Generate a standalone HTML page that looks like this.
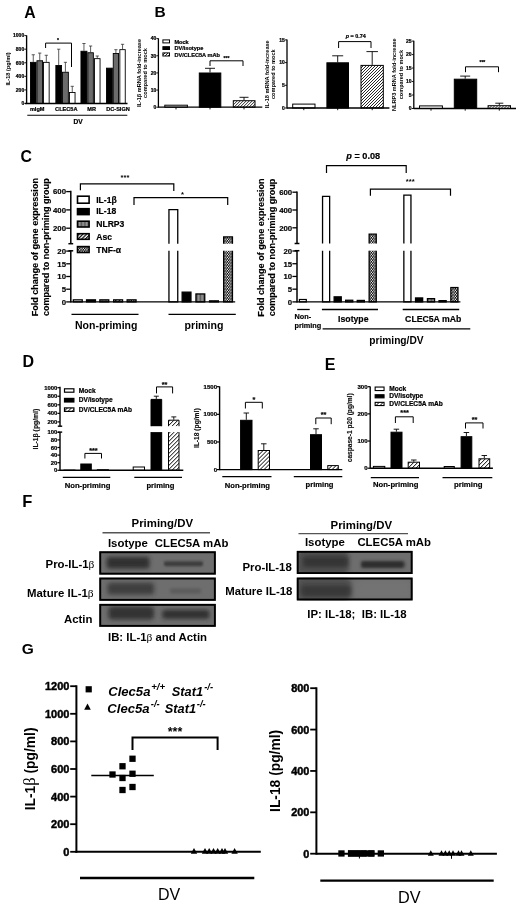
<!DOCTYPE html>
<html><head><meta charset="utf-8"><title>Figure</title>
<style>
html,body{margin:0;padding:0;background:#fff;width:520px;height:905px;overflow:hidden}
svg{display:block;font-family:"Liberation Sans",sans-serif;filter:grayscale(1)}
</style></head><body>
<svg width="520" height="905" viewBox="0 0 520 905"><defs>
<pattern id="hatch" patternUnits="userSpaceOnUse" width="1.9" height="1.9" patternTransform="rotate(45)"><rect width="1.9" height="1.9" fill="#fff"/><rect width="0.7" height="1.9" fill="#000"/></pattern>
<pattern id="hatch2" patternUnits="userSpaceOnUse" width="2.9" height="2.9" patternTransform="rotate(45)"><rect width="2.9" height="2.9" fill="#fff"/><rect width="0.95" height="2.9" fill="#000"/></pattern>
<pattern id="asc" patternUnits="userSpaceOnUse" width="2.6" height="2.6" patternTransform="rotate(45)"><rect width="2.6" height="2.6" fill="#fff"/><rect width="1.2" height="2.6" fill="#000"/></pattern>
<pattern id="check" patternUnits="userSpaceOnUse" width="2.4" height="3.0"><rect width="2.4" height="3.0" fill="#000"/><circle cx="0.6" cy="0.75" r="0.72" fill="#fff"/><circle cx="1.8" cy="2.25" r="0.72" fill="#fff"/></pattern>
<pattern id="dots" patternUnits="userSpaceOnUse" width="1.4" height="1.4"><rect width="1.4" height="1.4" fill="#9a9a9a"/><rect width="0.7" height="1.4" fill="#5a5a5a"/></pattern>
<filter id="bl1_5" x="-50%" y="-50%" width="200%" height="200%"><feGaussianBlur stdDeviation="1.5"/></filter>
<filter id="bl1" x="-50%" y="-50%" width="200%" height="200%"><feGaussianBlur stdDeviation="1"/></filter>
<filter id="bl2" x="-50%" y="-50%" width="200%" height="200%"><feGaussianBlur stdDeviation="2"/></filter>
<filter id="bl3" x="-50%" y="-50%" width="200%" height="200%"><feGaussianBlur stdDeviation="3"/></filter>
<clipPath id="c0"><rect x="99.3" y="551.3" width="116.5" height="23.3"/></clipPath><clipPath id="c1"><rect x="99.3" y="577.6" width="116.5" height="23.2"/></clipPath><clipPath id="c2"><rect x="99.3" y="603.9" width="116.5" height="22.9"/></clipPath><clipPath id="c3"><rect x="296.8" y="550.9" width="115.8" height="23.1"/></clipPath><clipPath id="c4"><rect x="296.8" y="577.6" width="115.8" height="22.8"/></clipPath><clipPath id="h0"><rect x="162.9" y="52.9" width="6.6" height="3.1"/></clipPath><clipPath id="h1"><rect x="233.3" y="100.7" width="21.7" height="6.5"/></clipPath><clipPath id="h2"><rect x="361" y="65.4" width="22.3" height="42.6"/></clipPath><clipPath id="h3"><rect x="488.1" y="105.7" width="22.4" height="2.8"/></clipPath><clipPath id="h4"><rect x="64.5" y="407.9" width="9.4" height="3.5"/></clipPath><clipPath id="h5"><rect x="97.35" y="469.65" width="11.1" height="0.65"/></clipPath><clipPath id="h6"><rect x="168.5" y="420.2" width="10.5" height="6"/></clipPath><clipPath id="h7"><rect x="168.5" y="432.1" width="10.5" height="38.2"/></clipPath><clipPath id="h8"><rect x="258.2" y="450.5" width="11.3" height="19.1"/></clipPath><clipPath id="h9"><rect x="327.8" y="465.6" width="10.5" height="4"/></clipPath><clipPath id="h10"><rect x="375.15" y="402.35" width="8.9" height="3.2"/></clipPath><clipPath id="h11"><rect x="408.2" y="462.2" width="11.3" height="6"/></clipPath><clipPath id="h12"><rect x="479" y="458.8" width="10.7" height="9.4"/></clipPath></defs><rect width="520" height="905" fill="#fff"/><text x="24.2" y="17.9" font-size="15.8" text-anchor="start" font-weight="bold" font-style="normal" fill="#000" >A</text>
<line x1="26.6" y1="35.3" x2="26.6" y2="104.1" stroke="#000" stroke-width="1.35" />
<line x1="24.4" y1="103.5" x2="26.6" y2="103.5" stroke="#000" stroke-width="0.9" />
<text x="24.2" y="105.3" font-size="5" text-anchor="end" font-weight="bold" font-style="normal" fill="#000"  stroke="#000" stroke-width="0.22">0</text>
<line x1="24.4" y1="89.92" x2="26.6" y2="89.92" stroke="#000" stroke-width="0.9" />
<text x="24.2" y="91.72" font-size="5" text-anchor="end" font-weight="bold" font-style="normal" fill="#000"  stroke="#000" stroke-width="0.22">200</text>
<line x1="24.4" y1="76.34" x2="26.6" y2="76.34" stroke="#000" stroke-width="0.9" />
<text x="24.2" y="78.14" font-size="5" text-anchor="end" font-weight="bold" font-style="normal" fill="#000"  stroke="#000" stroke-width="0.22">400</text>
<line x1="24.4" y1="62.76" x2="26.6" y2="62.76" stroke="#000" stroke-width="0.9" />
<text x="24.2" y="64.56" font-size="5" text-anchor="end" font-weight="bold" font-style="normal" fill="#000"  stroke="#000" stroke-width="0.22">600</text>
<line x1="24.4" y1="49.18" x2="26.6" y2="49.18" stroke="#000" stroke-width="0.9" />
<text x="24.2" y="50.98" font-size="5" text-anchor="end" font-weight="bold" font-style="normal" fill="#000"  stroke="#000" stroke-width="0.22">800</text>
<line x1="24.4" y1="35.6" x2="26.6" y2="35.6" stroke="#000" stroke-width="0.9" />
<text x="24.2" y="37.4" font-size="5" text-anchor="end" font-weight="bold" font-style="normal" fill="#000"  stroke="#000" stroke-width="0.22">1000</text>
<text x="10.2" y="69" font-size="5.6" text-anchor="middle" font-weight="bold" font-style="normal" fill="#000" transform="rotate(-90 10.2 69)" >IL-18 (pg/ml)</text>
<line x1="33.25" y1="61.9" x2="33.25" y2="54.75" stroke="#333" stroke-width="0.8" />
<line x1="31.65" y1="54.75" x2="34.85" y2="54.75" stroke="#333" stroke-width="0.8" />
<rect x="30.45" y="62.35" width="5.6" height="41.15" fill="#000" stroke="none" stroke-width="0" />
<rect x="30.45" y="62.35" width="5.6" height="41.15" fill="none" stroke="#000" stroke-width="0.9" />
<line x1="39.75" y1="60.3" x2="39.75" y2="53.1" stroke="#333" stroke-width="0.8" />
<line x1="38.15" y1="53.1" x2="41.35" y2="53.1" stroke="#333" stroke-width="0.8" />
<rect x="36.95" y="60.75" width="5.6" height="42.75" fill="#6b6b6b" stroke="none" stroke-width="0" />
<rect x="36.95" y="60.75" width="5.6" height="42.75" fill="none" stroke="#000" stroke-width="0.9" />
<line x1="46.3" y1="61.9" x2="46.3" y2="55.25" stroke="#333" stroke-width="0.8" />
<line x1="44.7" y1="55.25" x2="47.9" y2="55.25" stroke="#333" stroke-width="0.8" />
<rect x="43.45" y="62.35" width="5.7" height="41.15" fill="#fff" stroke="none" stroke-width="0" />
<rect x="43.45" y="62.35" width="5.7" height="41.15" fill="none" stroke="#000" stroke-width="0.9" />
<line x1="58.7" y1="65" x2="58.7" y2="49.2" stroke="#333" stroke-width="0.8" />
<line x1="57.1" y1="49.2" x2="60.3" y2="49.2" stroke="#333" stroke-width="0.8" />
<rect x="55.85" y="65.45" width="5.7" height="38.05" fill="#000" stroke="none" stroke-width="0" />
<rect x="55.85" y="65.45" width="5.7" height="38.05" fill="none" stroke="#000" stroke-width="0.9" />
<line x1="65.4" y1="71.8" x2="65.4" y2="62.3" stroke="#333" stroke-width="0.8" />
<line x1="63.8" y1="62.3" x2="67" y2="62.3" stroke="#333" stroke-width="0.8" />
<rect x="62.45" y="72.25" width="5.9" height="31.25" fill="#6b6b6b" stroke="none" stroke-width="0" />
<rect x="62.45" y="72.25" width="5.9" height="31.25" fill="none" stroke="#000" stroke-width="0.9" />
<line x1="72.25" y1="92" x2="72.25" y2="86.3" stroke="#333" stroke-width="0.8" />
<line x1="70.65" y1="86.3" x2="73.85" y2="86.3" stroke="#333" stroke-width="0.8" />
<rect x="69.45" y="92.45" width="5.6" height="11.05" fill="#fff" stroke="none" stroke-width="0" />
<rect x="69.45" y="92.45" width="5.6" height="11.05" fill="none" stroke="#000" stroke-width="0.9" />
<line x1="83.95" y1="50.8" x2="83.95" y2="43.5" stroke="#333" stroke-width="0.8" />
<line x1="82.35" y1="43.5" x2="85.55" y2="43.5" stroke="#333" stroke-width="0.8" />
<rect x="80.95" y="51.25" width="6" height="52.25" fill="#000" stroke="none" stroke-width="0" />
<rect x="80.95" y="51.25" width="6" height="52.25" fill="none" stroke="#000" stroke-width="0.9" />
<line x1="90.6" y1="52.3" x2="90.6" y2="46" stroke="#333" stroke-width="0.8" />
<line x1="89" y1="46" x2="92.2" y2="46" stroke="#333" stroke-width="0.8" />
<rect x="87.85" y="52.75" width="5.5" height="50.75" fill="#6b6b6b" stroke="none" stroke-width="0" />
<rect x="87.85" y="52.75" width="5.5" height="50.75" fill="none" stroke="#000" stroke-width="0.9" />
<line x1="97.25" y1="58.2" x2="97.25" y2="56" stroke="#333" stroke-width="0.8" />
<line x1="95.65" y1="56" x2="98.85" y2="56" stroke="#333" stroke-width="0.8" />
<rect x="94.45" y="58.65" width="5.6" height="44.85" fill="#fff" stroke="none" stroke-width="0" />
<rect x="94.45" y="58.65" width="5.6" height="44.85" fill="none" stroke="#000" stroke-width="0.9" />
<rect x="106.45" y="68.15" width="5.9" height="35.35" fill="#000" stroke="none" stroke-width="0" />
<rect x="106.45" y="68.15" width="5.9" height="35.35" fill="none" stroke="#000" stroke-width="0.9" />
<line x1="115.9" y1="53" x2="115.9" y2="49.7" stroke="#333" stroke-width="0.8" />
<line x1="114.3" y1="49.7" x2="117.5" y2="49.7" stroke="#333" stroke-width="0.8" />
<rect x="113.25" y="53.45" width="5.3" height="50.05" fill="#6b6b6b" stroke="none" stroke-width="0" />
<rect x="113.25" y="53.45" width="5.3" height="50.05" fill="none" stroke="#000" stroke-width="0.9" />
<line x1="122.55" y1="49.2" x2="122.55" y2="44.3" stroke="#333" stroke-width="0.8" />
<line x1="120.95" y1="44.3" x2="124.15" y2="44.3" stroke="#333" stroke-width="0.8" />
<rect x="119.85" y="49.65" width="5.4" height="53.85" fill="#fff" stroke="none" stroke-width="0" />
<rect x="119.85" y="49.65" width="5.4" height="53.85" fill="none" stroke="#000" stroke-width="0.9" />
<line x1="25" y1="103.5" x2="127.5" y2="103.5" stroke="#000" stroke-width="1.3" />
<polyline points="45.6,48 45.6,43.1 71.5,43.1 71.5,67" fill="none" stroke="#000" stroke-width="1" stroke-linejoin="miter"/>
<text x="58" y="41.5" font-size="5" text-anchor="middle" font-weight="bold" font-style="normal" fill="#000"  stroke="#000" stroke-width="0.22">*</text>
<text x="37.2" y="110.8" font-size="5.6" text-anchor="middle" font-weight="bold" font-style="normal" fill="#000"  stroke="#000" stroke-width="0.22">mIgM</text>
<text x="66.3" y="110.8" font-size="5.6" text-anchor="middle" font-weight="bold" font-style="normal" fill="#000"  stroke="#000" stroke-width="0.22">CLEC5A</text>
<text x="91.7" y="110.8" font-size="5.6" text-anchor="middle" font-weight="bold" font-style="normal" fill="#000"  stroke="#000" stroke-width="0.22">MR</text>
<text x="118" y="110.8" font-size="5.6" text-anchor="middle" font-weight="bold" font-style="normal" fill="#000"  stroke="#000" stroke-width="0.22">DC-SIGN</text>
<line x1="27.3" y1="115.3" x2="127.3" y2="115.3" stroke="#000" stroke-width="1.1" />
<text x="78" y="123.8" font-size="6.6" text-anchor="middle" font-weight="bold" font-style="normal" fill="#000"  stroke="#000" stroke-width="0.22">DV</text>
<text x="154.6" y="17.2" font-size="15.5" text-anchor="start" font-weight="bold" font-style="normal" fill="#000" >B</text>
<line x1="158.4" y1="38.3" x2="158.4" y2="107.7" stroke="#000" stroke-width="1.3" />
<line x1="156.4" y1="107.2" x2="158.4" y2="107.2" stroke="#000" stroke-width="0.9" />
<text x="156.2" y="109" font-size="5" text-anchor="end" font-weight="bold" font-style="normal" fill="#000"  stroke="#000" stroke-width="0.22">0</text>
<line x1="156.4" y1="90.05" x2="158.4" y2="90.05" stroke="#000" stroke-width="0.9" />
<text x="156.2" y="91.85" font-size="5" text-anchor="end" font-weight="bold" font-style="normal" fill="#000"  stroke="#000" stroke-width="0.22">10</text>
<line x1="156.4" y1="72.9" x2="158.4" y2="72.9" stroke="#000" stroke-width="0.9" />
<text x="156.2" y="74.7" font-size="5" text-anchor="end" font-weight="bold" font-style="normal" fill="#000"  stroke="#000" stroke-width="0.22">20</text>
<line x1="156.4" y1="55.75" x2="158.4" y2="55.75" stroke="#000" stroke-width="0.9" />
<text x="156.2" y="57.55" font-size="5" text-anchor="end" font-weight="bold" font-style="normal" fill="#000"  stroke="#000" stroke-width="0.22">30</text>
<line x1="156.4" y1="38.6" x2="158.4" y2="38.6" stroke="#000" stroke-width="0.9" />
<text x="156.2" y="40.4" font-size="5" text-anchor="end" font-weight="bold" font-style="normal" fill="#000"  stroke="#000" stroke-width="0.22">40</text>
<text x="140.8" y="73" font-size="5.6" text-anchor="middle" font-weight="bold" font-style="normal" fill="#000" transform="rotate(-90 140.8 73)" >IL-1β mRNA fold-increase</text>
<text x="147.2" y="73" font-size="5.6" text-anchor="middle" font-weight="bold" font-style="normal" fill="#000" transform="rotate(-90 147.2 73)" >compared to mock</text>
<rect x="162.9" y="39.9" width="6.6" height="3" fill="#fff" stroke="none" stroke-width="0" />
<rect x="162.9" y="39.9" width="6.6" height="3" fill="none" stroke="#000" stroke-width="1" />
<text x="174.4" y="43.6" font-size="5.6" text-anchor="start" font-weight="bold" font-style="normal" fill="#000"  stroke="#000" stroke-width="0.22">Mock</text>
<rect x="162.9" y="46.7" width="6.6" height="2.8" fill="#000" stroke="none" stroke-width="0" />
<rect x="162.9" y="46.7" width="6.6" height="2.8" fill="none" stroke="#000" stroke-width="1" />
<text x="174.4" y="50.1" font-size="5.6" text-anchor="start" font-weight="bold" font-style="normal" fill="#000"  stroke="#000" stroke-width="0.22">DV/isotype</text>
<rect x="162.9" y="52.9" width="6.6" height="3.1" fill="#fff"/>
<path d="M159 56L162.1 52.9M162 56L165.1 52.9M165 56L168.1 52.9M168 56L171.1 52.9M171 56L174.1 52.9" stroke="#000" stroke-width="0.85" clip-path="url(#h0)"/>
<rect x="162.9" y="52.9" width="6.6" height="3.1" fill="none" stroke="#000" stroke-width="1" />
<text x="174.4" y="56.6" font-size="5.6" text-anchor="start" font-weight="bold" font-style="normal" fill="#000"  stroke="#000" stroke-width="0.22">DV/CLEC5A mAb</text>
<rect x="164.8" y="105.2" width="22.6" height="2" fill="#fff" stroke="none" stroke-width="0" />
<rect x="164.8" y="105.2" width="22.6" height="2" fill="none" stroke="#000" stroke-width="1" />
<line x1="210" y1="72.5" x2="210" y2="68.3" stroke="#000" stroke-width="0.9" />
<line x1="205" y1="68.3" x2="215" y2="68.3" stroke="#000" stroke-width="0.9" />
<rect x="199.3" y="73" width="21.5" height="34.2" fill="#000" stroke="none" stroke-width="0" />
<rect x="199.3" y="73" width="21.5" height="34.2" fill="none" stroke="#000" stroke-width="1" />
<line x1="244" y1="100.2" x2="244" y2="97.3" stroke="#000" stroke-width="0.9" />
<line x1="239.5" y1="97.3" x2="248.5" y2="97.3" stroke="#000" stroke-width="0.9" />
<rect x="233.3" y="100.7" width="21.7" height="6.5" fill="#fff"/>
<path d="M225 107.2L231.5 100.7M228 107.2L234.5 100.7M231 107.2L237.5 100.7M234 107.2L240.5 100.7M237 107.2L243.5 100.7M240 107.2L246.5 100.7M243 107.2L249.5 100.7M246 107.2L252.5 100.7M249 107.2L255.5 100.7M252 107.2L258.5 100.7M255 107.2L261.5 100.7" stroke="#000" stroke-width="0.85" clip-path="url(#h1)"/>
<rect x="233.3" y="100.7" width="21.7" height="6.5" fill="none" stroke="#000" stroke-width="1" />
<line x1="158.4" y1="107.2" x2="262.3" y2="107.2" stroke="#000" stroke-width="1.3" />
<line x1="176" y1="107.2" x2="176" y2="109.4" stroke="#000" stroke-width="0.9" />
<line x1="210" y1="107.2" x2="210" y2="109.4" stroke="#000" stroke-width="0.9" />
<line x1="244" y1="107.2" x2="244" y2="109.4" stroke="#000" stroke-width="0.9" />
<polyline points="210,66 210,60.8 243,60.8 243,66" fill="none" stroke="#000" stroke-width="1" stroke-linejoin="miter"/>
<text x="226.5" y="59.5" font-size="5" text-anchor="middle" font-weight="bold" font-style="normal" fill="#000"  stroke="#000" stroke-width="0.22">***</text>
<line x1="287" y1="39.6" x2="287" y2="108.5" stroke="#000" stroke-width="1.3" />
<line x1="285" y1="108" x2="287" y2="108" stroke="#000" stroke-width="0.9" />
<text x="284.8" y="109.8" font-size="5" text-anchor="end" font-weight="bold" font-style="normal" fill="#000"  stroke="#000" stroke-width="0.22">0</text>
<line x1="285" y1="85.3" x2="287" y2="85.3" stroke="#000" stroke-width="0.9" />
<text x="284.8" y="87.1" font-size="5" text-anchor="end" font-weight="bold" font-style="normal" fill="#000"  stroke="#000" stroke-width="0.22">5</text>
<line x1="285" y1="62.6" x2="287" y2="62.6" stroke="#000" stroke-width="0.9" />
<text x="284.8" y="64.4" font-size="5" text-anchor="end" font-weight="bold" font-style="normal" fill="#000"  stroke="#000" stroke-width="0.22">10</text>
<line x1="285" y1="39.9" x2="287" y2="39.9" stroke="#000" stroke-width="0.9" />
<text x="284.8" y="41.7" font-size="5" text-anchor="end" font-weight="bold" font-style="normal" fill="#000"  stroke="#000" stroke-width="0.22">15</text>
<text x="268.8" y="74.2" font-size="5.6" text-anchor="middle" font-weight="bold" font-style="normal" fill="#000" transform="rotate(-90 268.8 74.2)" >IL-18 mRNA fold-increase</text>
<text x="275.4" y="74.2" font-size="5.6" text-anchor="middle" font-weight="bold" font-style="normal" fill="#000" transform="rotate(-90 275.4 74.2)" >compared to mock</text>
<rect x="292.7" y="104.1" width="22.3" height="3.9" fill="#fff" stroke="none" stroke-width="0" />
<rect x="292.7" y="104.1" width="22.3" height="3.9" fill="none" stroke="#000" stroke-width="1" />
<line x1="337.7" y1="62.3" x2="337.7" y2="55.8" stroke="#000" stroke-width="0.9" />
<line x1="332.2" y1="55.8" x2="343.2" y2="55.8" stroke="#000" stroke-width="0.9" />
<rect x="326.9" y="62.8" width="21.6" height="45.2" fill="#000" stroke="none" stroke-width="0" />
<rect x="326.9" y="62.8" width="21.6" height="45.2" fill="none" stroke="#000" stroke-width="1" />
<line x1="372.2" y1="64.9" x2="372.2" y2="51.6" stroke="#000" stroke-width="0.9" />
<line x1="366.45" y1="51.6" x2="377.95" y2="51.6" stroke="#000" stroke-width="0.9" />
<rect x="361" y="65.4" width="22.3" height="42.6" fill="#fff"/>
<path d="M318 108L360.6 65.4M321 108L363.6 65.4M324 108L366.6 65.4M327 108L369.6 65.4M330 108L372.6 65.4M333 108L375.6 65.4M336 108L378.6 65.4M339 108L381.6 65.4M342 108L384.6 65.4M345 108L387.6 65.4M348 108L390.6 65.4M351 108L393.6 65.4M354 108L396.6 65.4M357 108L399.6 65.4M360 108L402.6 65.4M363 108L405.6 65.4M366 108L408.6 65.4M369 108L411.6 65.4M372 108L414.6 65.4M375 108L417.6 65.4M378 108L420.6 65.4M381 108L423.6 65.4M384 108L426.6 65.4" stroke="#000" stroke-width="0.85" clip-path="url(#h2)"/>
<rect x="361" y="65.4" width="22.3" height="42.6" fill="none" stroke="#000" stroke-width="1" />
<line x1="287" y1="108" x2="389.4" y2="108" stroke="#000" stroke-width="1.3" />
<line x1="303.8" y1="108" x2="303.8" y2="110.2" stroke="#000" stroke-width="0.9" />
<line x1="337.7" y1="108" x2="337.7" y2="110.2" stroke="#000" stroke-width="0.9" />
<line x1="372.2" y1="108" x2="372.2" y2="110.2" stroke="#000" stroke-width="0.9" />
<polyline points="338.6,48 338.6,41.6 371,41.6 371,48" fill="none" stroke="#000" stroke-width="1" stroke-linejoin="miter"/>
<text x="355.8" y="38.3" font-size="5.4" text-anchor="middle" font-weight="bold" font-style="normal" fill="#000"  stroke="#000" stroke-width="0.22"><tspan font-style="italic">p</tspan> = 0.74</text>
<line x1="413.8" y1="40.8" x2="413.8" y2="109" stroke="#000" stroke-width="1.3" />
<line x1="411.8" y1="108.5" x2="413.8" y2="108.5" stroke="#000" stroke-width="0.9" />
<text x="411.6" y="110.3" font-size="5" text-anchor="end" font-weight="bold" font-style="normal" fill="#000"  stroke="#000" stroke-width="0.22">0</text>
<line x1="411.8" y1="95.02" x2="413.8" y2="95.02" stroke="#000" stroke-width="0.9" />
<text x="411.6" y="96.82" font-size="5" text-anchor="end" font-weight="bold" font-style="normal" fill="#000"  stroke="#000" stroke-width="0.22">5</text>
<line x1="411.8" y1="81.54" x2="413.8" y2="81.54" stroke="#000" stroke-width="0.9" />
<text x="411.6" y="83.34" font-size="5" text-anchor="end" font-weight="bold" font-style="normal" fill="#000"  stroke="#000" stroke-width="0.22">10</text>
<line x1="411.8" y1="68.06" x2="413.8" y2="68.06" stroke="#000" stroke-width="0.9" />
<text x="411.6" y="69.86" font-size="5" text-anchor="end" font-weight="bold" font-style="normal" fill="#000"  stroke="#000" stroke-width="0.22">15</text>
<line x1="411.8" y1="54.58" x2="413.8" y2="54.58" stroke="#000" stroke-width="0.9" />
<text x="411.6" y="56.38" font-size="5" text-anchor="end" font-weight="bold" font-style="normal" fill="#000"  stroke="#000" stroke-width="0.22">20</text>
<line x1="411.8" y1="41.1" x2="413.8" y2="41.1" stroke="#000" stroke-width="0.9" />
<text x="411.6" y="42.9" font-size="5" text-anchor="end" font-weight="bold" font-style="normal" fill="#000"  stroke="#000" stroke-width="0.22">25</text>
<text x="396" y="74.6" font-size="5.55" text-anchor="middle" font-weight="bold" font-style="normal" fill="#000" transform="rotate(-90 396 74.6)" >NLRP3 mRNA fold-increase</text>
<text x="402.8" y="74.6" font-size="5.55" text-anchor="middle" font-weight="bold" font-style="normal" fill="#000" transform="rotate(-90 402.8 74.6)" >compared to mock</text>
<rect x="419.5" y="105.9" width="22.9" height="2.6" fill="#fff" stroke="none" stroke-width="0" />
<rect x="419.5" y="105.9" width="22.9" height="2.6" fill="none" stroke="#000" stroke-width="1" />
<line x1="465.2" y1="78.7" x2="465.2" y2="76.1" stroke="#000" stroke-width="0.9" />
<line x1="460.2" y1="76.1" x2="470.2" y2="76.1" stroke="#000" stroke-width="0.9" />
<rect x="454.3" y="79.2" width="22.4" height="29.3" fill="#000" stroke="none" stroke-width="0" />
<rect x="454.3" y="79.2" width="22.4" height="29.3" fill="none" stroke="#000" stroke-width="1" />
<line x1="499.3" y1="105.2" x2="499.3" y2="103.2" stroke="#000" stroke-width="0.9" />
<line x1="495.3" y1="103.2" x2="503.3" y2="103.2" stroke="#000" stroke-width="0.9" />
<rect x="488.1" y="105.7" width="22.4" height="2.8" fill="#fff"/>
<path d="M483 108.5L485.8 105.7M486 108.5L488.8 105.7M489 108.5L491.8 105.7M492 108.5L494.8 105.7M495 108.5L497.8 105.7M498 108.5L500.8 105.7M501 108.5L503.8 105.7M504 108.5L506.8 105.7M507 108.5L509.8 105.7M510 108.5L512.8 105.7M513 108.5L515.8 105.7" stroke="#000" stroke-width="0.85" clip-path="url(#h3)"/>
<rect x="488.1" y="105.7" width="22.4" height="2.8" fill="none" stroke="#000" stroke-width="1" />
<line x1="413.8" y1="108.5" x2="516" y2="108.5" stroke="#000" stroke-width="1.3" />
<line x1="431" y1="108.5" x2="431" y2="110.7" stroke="#000" stroke-width="0.9" />
<line x1="465.2" y1="108.5" x2="465.2" y2="110.7" stroke="#000" stroke-width="0.9" />
<line x1="499.3" y1="108.5" x2="499.3" y2="110.7" stroke="#000" stroke-width="0.9" />
<polyline points="465.5,72.2 465.5,66.8 498.5,66.8 498.5,72.2" fill="none" stroke="#000" stroke-width="1" stroke-linejoin="miter"/>
<text x="482.4" y="64.2" font-size="5" text-anchor="middle" font-weight="bold" font-style="normal" fill="#000"  stroke="#000" stroke-width="0.22">***</text>
<text x="20.6" y="161.6" font-size="15.8" text-anchor="start" font-weight="bold" font-style="normal" fill="#000" >C</text>
<line x1="70.8" y1="190.8" x2="70.8" y2="243.7" stroke="#000" stroke-width="1.5" />
<line x1="68.4" y1="243.7" x2="73.2" y2="243.7" stroke="#000" stroke-width="1.5" />
<line x1="70.8" y1="250.8" x2="70.8" y2="302.4" stroke="#000" stroke-width="1.5" />
<line x1="68.4" y1="250.8" x2="73.2" y2="250.8" stroke="#000" stroke-width="1.5" />
<line x1="66.2" y1="191.6" x2="70.8" y2="191.6" stroke="#000" stroke-width="1.3" />
<text x="66" y="194.4" font-size="7.8" text-anchor="end" font-weight="bold" font-style="normal" fill="#000"  stroke="#000" stroke-width="0.18">600</text>
<line x1="66.2" y1="209.9" x2="70.8" y2="209.9" stroke="#000" stroke-width="1.3" />
<text x="66" y="212.7" font-size="7.8" text-anchor="end" font-weight="bold" font-style="normal" fill="#000"  stroke="#000" stroke-width="0.18">400</text>
<line x1="66.2" y1="228.2" x2="70.8" y2="228.2" stroke="#000" stroke-width="1.3" />
<text x="66" y="231" font-size="7.8" text-anchor="end" font-weight="bold" font-style="normal" fill="#000"  stroke="#000" stroke-width="0.18">200</text>
<line x1="66.2" y1="301.9" x2="70.8" y2="301.9" stroke="#000" stroke-width="1.3" />
<text x="66" y="304.7" font-size="7.8" text-anchor="end" font-weight="bold" font-style="normal" fill="#000"  stroke="#000" stroke-width="0.18">0</text>
<line x1="66.2" y1="289.2" x2="70.8" y2="289.2" stroke="#000" stroke-width="1.3" />
<text x="66" y="292" font-size="7.8" text-anchor="end" font-weight="bold" font-style="normal" fill="#000"  stroke="#000" stroke-width="0.18">5</text>
<line x1="66.2" y1="276.5" x2="70.8" y2="276.5" stroke="#000" stroke-width="1.3" />
<text x="66" y="279.3" font-size="7.8" text-anchor="end" font-weight="bold" font-style="normal" fill="#000"  stroke="#000" stroke-width="0.18">10</text>
<line x1="66.2" y1="263.8" x2="70.8" y2="263.8" stroke="#000" stroke-width="1.3" />
<text x="66" y="266.6" font-size="7.8" text-anchor="end" font-weight="bold" font-style="normal" fill="#000"  stroke="#000" stroke-width="0.18">15</text>
<line x1="66.2" y1="251.1" x2="70.8" y2="251.1" stroke="#000" stroke-width="1.3" />
<text x="66" y="253.9" font-size="7.8" text-anchor="end" font-weight="bold" font-style="normal" fill="#000"  stroke="#000" stroke-width="0.18">20</text>
<text x="37.6" y="247.2" font-size="9.05" text-anchor="middle" font-weight="bold" font-style="normal" fill="#000" transform="rotate(-90 37.6 247.2)" stroke="#000" stroke-width="0.15">Fold change of gene expression</text>
<text x="48.8" y="247.2" font-size="9.05" text-anchor="middle" font-weight="bold" font-style="normal" fill="#000" transform="rotate(-90 48.8 247.2)" stroke="#000" stroke-width="0.15">compared to non-priming group</text>
<rect x="77.5" y="196.2" width="11.6" height="7" fill="#fff" stroke="none" stroke-width="0" />
<rect x="77.5" y="196.2" width="11.6" height="7" fill="none" stroke="#000" stroke-width="1.6" />
<text x="96.2" y="202.6" font-size="8.6" text-anchor="start" font-weight="bold" font-style="normal" fill="#000"  stroke="#000" stroke-width="0.18">IL-1β</text>
<rect x="77.5" y="208.7" width="11.6" height="5.9" fill="#000" stroke="none" stroke-width="0" />
<rect x="77.5" y="208.7" width="11.6" height="5.9" fill="none" stroke="#000" stroke-width="1.6" />
<text x="96.2" y="214.3" font-size="8.6" text-anchor="start" font-weight="bold" font-style="normal" fill="#000"  stroke="#000" stroke-width="0.18">IL-18</text>
<rect x="77.5" y="221.2" width="11.6" height="5.8" fill="url(#dots)" stroke="none" stroke-width="0" />
<rect x="77.5" y="221.2" width="11.6" height="5.8" fill="none" stroke="#000" stroke-width="1.6" />
<text x="96.2" y="226.6" font-size="8.6" text-anchor="start" font-weight="bold" font-style="normal" fill="#000"  stroke="#000" stroke-width="0.18">NLRP3</text>
<rect x="77.5" y="233.7" width="11.6" height="5.6" fill="url(#asc)" stroke="none" stroke-width="0" />
<rect x="77.5" y="233.7" width="11.6" height="5.6" fill="none" stroke="#000" stroke-width="1.6" />
<text x="96.2" y="239.6" font-size="8.6" text-anchor="start" font-weight="bold" font-style="normal" fill="#000"  stroke="#000" stroke-width="0.18">Asc</text>
<rect x="77.5" y="246.6" width="11.6" height="5.9" fill="url(#check)" stroke="none" stroke-width="0" />
<rect x="77.5" y="246.6" width="11.6" height="5.9" fill="none" stroke="#000" stroke-width="1.6" />
<text x="96.2" y="252.6" font-size="8.6" text-anchor="start" font-weight="bold" font-style="normal" fill="#000"  stroke="#000" stroke-width="0.18">TNF-α</text>
<rect x="73.35" y="299.85" width="8.9" height="2.05" fill="#fff" stroke="none" stroke-width="0" />
<rect x="73.35" y="299.85" width="8.9" height="2.05" fill="none" stroke="#000" stroke-width="1.3" />
<rect x="86.55" y="299.85" width="8.9" height="2.05" fill="#000" stroke="none" stroke-width="0" />
<rect x="86.55" y="299.85" width="8.9" height="2.05" fill="none" stroke="#000" stroke-width="1.3" />
<rect x="99.85" y="299.85" width="8.9" height="2.05" fill="url(#dots)" stroke="none" stroke-width="0" />
<rect x="99.85" y="299.85" width="8.9" height="2.05" fill="none" stroke="#000" stroke-width="1.3" />
<rect x="113.65" y="299.85" width="8.9" height="2.05" fill="url(#asc)" stroke="none" stroke-width="0" />
<rect x="113.65" y="299.85" width="8.9" height="2.05" fill="none" stroke="#000" stroke-width="1.3" />
<rect x="127.15" y="299.85" width="8.9" height="2.05" fill="url(#check)" stroke="none" stroke-width="0" />
<rect x="127.15" y="299.85" width="8.9" height="2.05" fill="none" stroke="#000" stroke-width="1.3" />
<rect x="168.95" y="209.65" width="8.8" height="34.05" fill="#fff" stroke="none" stroke-width="0" />
<rect x="168.95" y="250.8" width="8.8" height="51.1" fill="#fff" stroke="none" stroke-width="0" />
<polyline points="168.95,243.7 168.95,209.65 177.75,209.65 177.75,243.7" fill="none" stroke="#000" stroke-width="1.3" stroke-linejoin="miter"/>
<polyline points="168.95,250.8 168.95,301.9 177.75,301.9 177.75,250.8" fill="none" stroke="#000" stroke-width="1.3" stroke-linejoin="miter"/>
<rect x="182.15" y="292.15" width="8.8" height="9.75" fill="#000" stroke="none" stroke-width="0" />
<rect x="182.15" y="292.15" width="8.8" height="9.75" fill="none" stroke="#000" stroke-width="1.3" />
<rect x="195.95" y="293.95" width="8.8" height="7.95" fill="url(#dots)" stroke="none" stroke-width="0" />
<rect x="195.95" y="293.95" width="8.8" height="7.95" fill="none" stroke="#000" stroke-width="1.3" />
<rect x="209.55" y="300.85" width="8.8" height="1.05" fill="url(#asc)" stroke="none" stroke-width="0" />
<rect x="209.55" y="300.85" width="8.8" height="1.05" fill="none" stroke="#000" stroke-width="1.3" />
<rect x="223.65" y="236.95" width="8.8" height="6.75" fill="url(#check)" stroke="none" stroke-width="0" />
<rect x="223.65" y="250.8" width="8.8" height="51.1" fill="url(#check)" stroke="none" stroke-width="0" />
<polyline points="223.65,243.7 223.65,236.95 232.45,236.95 232.45,243.7" fill="none" stroke="#000" stroke-width="1.3" stroke-linejoin="miter"/>
<polyline points="223.65,250.8 223.65,301.9 232.45,301.9 232.45,250.8" fill="none" stroke="#000" stroke-width="1.3" stroke-linejoin="miter"/>
<line x1="70.8" y1="301.9" x2="235.2" y2="301.9" stroke="#000" stroke-width="1.4" />
<polyline points="80.4,190.2 80.4,183.8 173.8,183.8 173.8,191" fill="none" stroke="#000" stroke-width="1.2" stroke-linejoin="miter"/>
<text x="125" y="180.2" font-size="7.6" text-anchor="middle" font-weight="bold" font-style="normal" fill="#000" stroke="none">***</text>
<polyline points="134,205 134,197.7 227.7,197.7 227.7,205" fill="none" stroke="#000" stroke-width="1.2" stroke-linejoin="miter"/>
<text x="182.5" y="196.9" font-size="7.6" text-anchor="middle" font-weight="bold" font-style="normal" fill="#000" stroke="none">*</text>
<line x1="71.5" y1="314.4" x2="138.5" y2="314.4" stroke="#000" stroke-width="1.3" />
<line x1="168.5" y1="314.4" x2="235.8" y2="314.4" stroke="#000" stroke-width="1.3" />
<text x="106.2" y="328.9" font-size="10.5" text-anchor="middle" font-weight="bold" font-style="normal" fill="#000" >Non-priming</text>
<text x="204" y="328.9" font-size="10.6" text-anchor="middle" font-weight="bold" font-style="normal" fill="#000" >priming</text>
<line x1="297" y1="191.4" x2="297" y2="243.5" stroke="#000" stroke-width="1.5" />
<line x1="294.6" y1="243.5" x2="299.4" y2="243.5" stroke="#000" stroke-width="1.5" />
<line x1="297" y1="250.7" x2="297" y2="302.4" stroke="#000" stroke-width="1.5" />
<line x1="294.6" y1="250.7" x2="299.4" y2="250.7" stroke="#000" stroke-width="1.5" />
<line x1="292.4" y1="192.2" x2="297" y2="192.2" stroke="#000" stroke-width="1.3" />
<text x="292.2" y="195" font-size="7.8" text-anchor="end" font-weight="bold" font-style="normal" fill="#000"  stroke="#000" stroke-width="0.18">600</text>
<line x1="292.4" y1="210" x2="297" y2="210" stroke="#000" stroke-width="1.3" />
<text x="292.2" y="212.8" font-size="7.8" text-anchor="end" font-weight="bold" font-style="normal" fill="#000"  stroke="#000" stroke-width="0.18">400</text>
<line x1="292.4" y1="227.8" x2="297" y2="227.8" stroke="#000" stroke-width="1.3" />
<text x="292.2" y="230.6" font-size="7.8" text-anchor="end" font-weight="bold" font-style="normal" fill="#000"  stroke="#000" stroke-width="0.18">200</text>
<line x1="292.4" y1="301.9" x2="297" y2="301.9" stroke="#000" stroke-width="1.3" />
<text x="292.2" y="304.7" font-size="7.8" text-anchor="end" font-weight="bold" font-style="normal" fill="#000"  stroke="#000" stroke-width="0.18">0</text>
<line x1="292.4" y1="289.17" x2="297" y2="289.17" stroke="#000" stroke-width="1.3" />
<text x="292.2" y="291.97" font-size="7.8" text-anchor="end" font-weight="bold" font-style="normal" fill="#000"  stroke="#000" stroke-width="0.18">5</text>
<line x1="292.4" y1="276.45" x2="297" y2="276.45" stroke="#000" stroke-width="1.3" />
<text x="292.2" y="279.25" font-size="7.8" text-anchor="end" font-weight="bold" font-style="normal" fill="#000"  stroke="#000" stroke-width="0.18">10</text>
<line x1="292.4" y1="263.73" x2="297" y2="263.73" stroke="#000" stroke-width="1.3" />
<text x="292.2" y="266.53" font-size="7.8" text-anchor="end" font-weight="bold" font-style="normal" fill="#000"  stroke="#000" stroke-width="0.18">15</text>
<line x1="292.4" y1="251" x2="297" y2="251" stroke="#000" stroke-width="1.3" />
<text x="292.2" y="253.8" font-size="7.8" text-anchor="end" font-weight="bold" font-style="normal" fill="#000"  stroke="#000" stroke-width="0.18">20</text>
<text x="264.1" y="247.5" font-size="9.05" text-anchor="middle" font-weight="bold" font-style="normal" fill="#000" transform="rotate(-90 264.1 247.5)" stroke="#000" stroke-width="0.15">Fold change of gene expression</text>
<text x="275.2" y="247.5" font-size="9.05" text-anchor="middle" font-weight="bold" font-style="normal" fill="#000" transform="rotate(-90 275.2 247.5)" stroke="#000" stroke-width="0.15">compared to non-priming group</text>
<rect x="299.4" y="299.5" width="6.9" height="2.4" fill="#fff" stroke="none" stroke-width="0" />
<rect x="299.4" y="299.5" width="6.9" height="2.4" fill="none" stroke="#000" stroke-width="1.2" />
<rect x="322.55" y="196.35" width="7.1" height="47.15" fill="#fff" stroke="none" stroke-width="0" />
<rect x="322.55" y="250.7" width="7.1" height="51.2" fill="#fff" stroke="none" stroke-width="0" />
<polyline points="322.55,243.5 322.55,196.35 329.65,196.35 329.65,243.5" fill="none" stroke="#000" stroke-width="1.3" stroke-linejoin="miter"/>
<polyline points="322.55,250.7 322.55,301.9 329.65,301.9 329.65,250.7" fill="none" stroke="#000" stroke-width="1.3" stroke-linejoin="miter"/>
<rect x="334.15" y="296.85" width="7.1" height="5.05" fill="#000" stroke="none" stroke-width="0" />
<rect x="334.15" y="296.85" width="7.1" height="5.05" fill="none" stroke="#000" stroke-width="1.3" />
<rect x="345.65" y="300.25" width="7.1" height="1.65" fill="url(#dots)" stroke="none" stroke-width="0" />
<rect x="345.65" y="300.25" width="7.1" height="1.65" fill="none" stroke="#000" stroke-width="1.3" />
<rect x="357.25" y="300.45" width="7.1" height="1.45" fill="url(#asc)" stroke="none" stroke-width="0" />
<rect x="357.25" y="300.45" width="7.1" height="1.45" fill="none" stroke="#000" stroke-width="1.3" />
<rect x="369.15" y="234.15" width="7.1" height="9.35" fill="url(#check)" stroke="none" stroke-width="0" />
<rect x="369.15" y="250.7" width="7.1" height="51.2" fill="url(#check)" stroke="none" stroke-width="0" />
<polyline points="369.15,243.5 369.15,234.15 376.25,234.15 376.25,243.5" fill="none" stroke="#000" stroke-width="1.3" stroke-linejoin="miter"/>
<polyline points="369.15,250.7 369.15,301.9 376.25,301.9 376.25,250.7" fill="none" stroke="#000" stroke-width="1.3" stroke-linejoin="miter"/>
<rect x="403.85" y="195.15" width="7.1" height="48.35" fill="#fff" stroke="none" stroke-width="0" />
<rect x="403.85" y="250.7" width="7.1" height="51.2" fill="#fff" stroke="none" stroke-width="0" />
<polyline points="403.85,243.5 403.85,195.15 410.95,195.15 410.95,243.5" fill="none" stroke="#000" stroke-width="1.3" stroke-linejoin="miter"/>
<polyline points="403.85,250.7 403.85,301.9 410.95,301.9 410.95,250.7" fill="none" stroke="#000" stroke-width="1.3" stroke-linejoin="miter"/>
<rect x="415.55" y="297.95" width="7.1" height="3.95" fill="#000" stroke="none" stroke-width="0" />
<rect x="415.55" y="297.95" width="7.1" height="3.95" fill="none" stroke="#000" stroke-width="1.3" />
<rect x="427.45" y="298.65" width="7.1" height="3.25" fill="url(#dots)" stroke="none" stroke-width="0" />
<rect x="427.45" y="298.65" width="7.1" height="3.25" fill="none" stroke="#000" stroke-width="1.3" />
<rect x="439.05" y="300.65" width="7.1" height="1.25" fill="url(#asc)" stroke="none" stroke-width="0" />
<rect x="439.05" y="300.65" width="7.1" height="1.25" fill="none" stroke="#000" stroke-width="1.3" />
<rect x="450.85" y="287.55" width="7.1" height="14.35" fill="url(#check)" stroke="none" stroke-width="0" />
<rect x="450.85" y="287.55" width="7.1" height="14.35" fill="none" stroke="#000" stroke-width="1.3" />
<line x1="297" y1="301.9" x2="460.4" y2="301.9" stroke="#000" stroke-width="1.4" />
<polyline points="326.5,173 326.5,165.7 406.2,165.7 406.2,173.1" fill="none" stroke="#000" stroke-width="1.2" stroke-linejoin="miter"/>
<text x="363.2" y="159.3" font-size="9.2" text-anchor="middle" font-weight="bold" font-style="normal" fill="#000"  stroke="#000" stroke-width="0.18"><tspan font-style="italic">p</tspan> = 0.08</text>
<polyline points="370.4,195.7 370.4,189.2 450.5,189.2 450.5,195.7" fill="none" stroke="#000" stroke-width="1.2" stroke-linejoin="miter"/>
<text x="410.2" y="183.8" font-size="7.6" text-anchor="middle" font-weight="bold" font-style="normal" fill="#000" stroke="none">***</text>
<line x1="297.2" y1="309.5" x2="309.7" y2="309.5" stroke="#000" stroke-width="1.3" />
<line x1="321.9" y1="309.5" x2="378" y2="309.5" stroke="#000" stroke-width="1.3" />
<line x1="402.7" y1="309.5" x2="459.2" y2="309.5" stroke="#000" stroke-width="1.3" />
<text x="294.5" y="318.6" font-size="7.3" text-anchor="start" font-weight="bold" font-style="normal" fill="#000"  stroke="#000" stroke-width="0.18">Non-</text>
<text x="294.5" y="327.8" font-size="7.3" text-anchor="start" font-weight="bold" font-style="normal" fill="#000"  stroke="#000" stroke-width="0.18">priming</text>
<text x="353.3" y="322.3" font-size="8.7" text-anchor="middle" font-weight="bold" font-style="normal" fill="#000"  stroke="#000" stroke-width="0.18">Isotype</text>
<text x="433.2" y="322.3" font-size="8.7" text-anchor="middle" font-weight="bold" font-style="normal" fill="#000"  stroke="#000" stroke-width="0.18">CLEC5A mAb</text>
<line x1="322.6" y1="328.9" x2="470.3" y2="328.9" stroke="#000" stroke-width="1.3" />
<text x="396.4" y="343.5" font-size="10.2" text-anchor="middle" font-weight="bold" font-style="normal" fill="#000" >priming/DV</text>
<text x="22.6" y="367.2" font-size="16" text-anchor="start" font-weight="bold" font-style="normal" fill="#000" >D</text>
<line x1="60" y1="386.8" x2="60" y2="426.2" stroke="#000" stroke-width="1.4" />
<line x1="57.8" y1="426.2" x2="62.2" y2="426.2" stroke="#000" stroke-width="1.4" />
<line x1="60" y1="432.1" x2="60" y2="470.8" stroke="#000" stroke-width="1.4" />
<line x1="57.8" y1="432.1" x2="62.2" y2="432.1" stroke="#000" stroke-width="1.4" />
<line x1="57.4" y1="387.7" x2="60" y2="387.7" stroke="#000" stroke-width="1.2" />
<text x="57.4" y="389.8" font-size="5.9" text-anchor="end" font-weight="bold" font-style="normal" fill="#000"  stroke="#000" stroke-width="0.22">1000</text>
<line x1="57.4" y1="396.25" x2="60" y2="396.25" stroke="#000" stroke-width="1.2" />
<text x="57.4" y="398.35" font-size="5.9" text-anchor="end" font-weight="bold" font-style="normal" fill="#000"  stroke="#000" stroke-width="0.22">800</text>
<line x1="57.4" y1="404.8" x2="60" y2="404.8" stroke="#000" stroke-width="1.2" />
<text x="57.4" y="406.9" font-size="5.9" text-anchor="end" font-weight="bold" font-style="normal" fill="#000"  stroke="#000" stroke-width="0.22">600</text>
<line x1="57.4" y1="413.35" x2="60" y2="413.35" stroke="#000" stroke-width="1.2" />
<text x="57.4" y="415.45" font-size="5.9" text-anchor="end" font-weight="bold" font-style="normal" fill="#000"  stroke="#000" stroke-width="0.22">400</text>
<line x1="57.4" y1="421.9" x2="60" y2="421.9" stroke="#000" stroke-width="1.2" />
<text x="57.4" y="424" font-size="5.9" text-anchor="end" font-weight="bold" font-style="normal" fill="#000"  stroke="#000" stroke-width="0.22">200</text>
<line x1="57.4" y1="470.3" x2="60" y2="470.3" stroke="#000" stroke-width="1.2" />
<text x="57.4" y="472.4" font-size="5.9" text-anchor="end" font-weight="bold" font-style="normal" fill="#000"  stroke="#000" stroke-width="0.22">0</text>
<line x1="57.4" y1="462.7" x2="60" y2="462.7" stroke="#000" stroke-width="1.2" />
<text x="57.4" y="464.8" font-size="5.9" text-anchor="end" font-weight="bold" font-style="normal" fill="#000"  stroke="#000" stroke-width="0.22">20</text>
<line x1="57.4" y1="455.1" x2="60" y2="455.1" stroke="#000" stroke-width="1.2" />
<text x="57.4" y="457.2" font-size="5.9" text-anchor="end" font-weight="bold" font-style="normal" fill="#000"  stroke="#000" stroke-width="0.22">40</text>
<line x1="57.4" y1="447.5" x2="60" y2="447.5" stroke="#000" stroke-width="1.2" />
<text x="57.4" y="449.6" font-size="5.9" text-anchor="end" font-weight="bold" font-style="normal" fill="#000"  stroke="#000" stroke-width="0.22">60</text>
<line x1="57.4" y1="439.9" x2="60" y2="439.9" stroke="#000" stroke-width="1.2" />
<text x="57.4" y="442" font-size="5.9" text-anchor="end" font-weight="bold" font-style="normal" fill="#000"  stroke="#000" stroke-width="0.22">80</text>
<line x1="57.4" y1="432.3" x2="60" y2="432.3" stroke="#000" stroke-width="1.2" />
<text x="57.4" y="434.4" font-size="5.9" text-anchor="end" font-weight="bold" font-style="normal" fill="#000"  stroke="#000" stroke-width="0.22">100</text>
<text x="38.1" y="429.1" font-size="6.8" text-anchor="middle" font-weight="bold" font-style="normal" fill="#111" transform="rotate(-90 38.1 429.1)" stroke="#111" stroke-width="0.15">IL-1β (pg/ml)</text>
<rect x="64.5" y="388.8" width="9.4" height="3.4" fill="#fff" stroke="none" stroke-width="0" />
<rect x="64.5" y="388.8" width="9.4" height="3.4" fill="none" stroke="#000" stroke-width="1.2" />
<text x="78.8" y="392.5" font-size="6.55" text-anchor="start" font-weight="bold" font-style="normal" fill="#000"  stroke="#000" stroke-width="0.22">Mock</text>
<rect x="64.5" y="398.4" width="9.4" height="3.6" fill="#000" stroke="none" stroke-width="0" />
<rect x="64.5" y="398.4" width="9.4" height="3.6" fill="none" stroke="#000" stroke-width="1.2" />
<text x="78.8" y="402.2" font-size="6.55" text-anchor="start" font-weight="bold" font-style="normal" fill="#000"  stroke="#000" stroke-width="0.22">DV/isotype</text>
<rect x="64.5" y="407.9" width="9.4" height="3.5" fill="#fff"/>
<path d="M60 411.4L63.5 407.9M64 411.4L67.5 407.9M68 411.4L71.5 407.9M72 411.4L75.5 407.9M76 411.4L79.5 407.9" stroke="#000" stroke-width="1" clip-path="url(#h4)"/>
<rect x="64.5" y="407.9" width="9.4" height="3.5" fill="none" stroke="#000" stroke-width="1.2" />
<text x="78.8" y="411.9" font-size="6.55" text-anchor="start" font-weight="bold" font-style="normal" fill="#000"  stroke="#000" stroke-width="0.22">DV/CLEC5A mAb</text>
<rect x="63.9" y="470" width="11.2" height="0.3" fill="#fff" stroke="none" stroke-width="0" />
<rect x="63.9" y="470" width="11.2" height="0.3" fill="none" stroke="#000" stroke-width="0.8" />
<rect x="80.8" y="464" width="10.5" height="6.3" fill="#000" stroke="none" stroke-width="0" />
<rect x="80.8" y="464" width="10.5" height="6.3" fill="none" stroke="#000" stroke-width="1" />
<rect x="97.35" y="469.65" width="11.1" height="0.65" fill="#fff"/>
<path d="M96 470.3L96.65 469.65M100 470.3L100.65 469.65M104 470.3L104.65 469.65M108 470.3L108.65 469.65M112 470.3L112.65 469.65" stroke="#000" stroke-width="1" clip-path="url(#h5)"/>
<rect x="97.35" y="469.65" width="11.1" height="0.65" fill="none" stroke="#000" stroke-width="0.9" />
<rect x="133.2" y="467" width="11.3" height="3.3" fill="#fff" stroke="none" stroke-width="0" />
<rect x="133.2" y="467" width="11.3" height="3.3" fill="none" stroke="#000" stroke-width="1" />
<line x1="156.3" y1="398.9" x2="156.3" y2="396.2" stroke="#000" stroke-width="0.9" />
<line x1="153.8" y1="396.2" x2="158.8" y2="396.2" stroke="#000" stroke-width="0.9" />
<rect x="151" y="399.4" width="10.7" height="26.8" fill="#000" stroke="none" stroke-width="0" />
<rect x="151" y="432.1" width="10.7" height="38.2" fill="#000" stroke="none" stroke-width="0" />
<polyline points="151,426.2 151,399.4 161.7,399.4 161.7,426.2" fill="none" stroke="#000" stroke-width="1" stroke-linejoin="miter"/>
<polyline points="151,432.1 151,470.3 161.7,470.3 161.7,432.1" fill="none" stroke="#000" stroke-width="1" stroke-linejoin="miter"/>
<line x1="173.8" y1="419.7" x2="173.8" y2="416.9" stroke="#000" stroke-width="0.9" />
<line x1="171.3" y1="416.9" x2="176.3" y2="416.9" stroke="#000" stroke-width="0.9" />
<rect x="168.5" y="420.2" width="10.5" height="6" fill="#fff"/>
<path d="M160 426.2L166 420.2M164 426.2L170 420.2M168 426.2L174 420.2M172 426.2L178 420.2M176 426.2L182 420.2M180 426.2L186 420.2" stroke="#000" stroke-width="1" clip-path="url(#h6)"/>
<rect x="168.5" y="432.1" width="10.5" height="38.2" fill="#fff"/>
<path d="M128 470.3L166.2 432.1M132 470.3L170.2 432.1M136 470.3L174.2 432.1M140 470.3L178.2 432.1M144 470.3L182.2 432.1M148 470.3L186.2 432.1M152 470.3L190.2 432.1M156 470.3L194.2 432.1M160 470.3L198.2 432.1M164 470.3L202.2 432.1M168 470.3L206.2 432.1M172 470.3L210.2 432.1M176 470.3L214.2 432.1M180 470.3L218.2 432.1" stroke="#000" stroke-width="1" clip-path="url(#h7)"/>
<polyline points="168.5,426.2 168.5,420.2 179,420.2 179,426.2" fill="none" stroke="#000" stroke-width="1" stroke-linejoin="miter"/>
<polyline points="168.5,432.1 168.5,470.3 179,470.3 179,432.1" fill="none" stroke="#000" stroke-width="1" stroke-linejoin="miter"/>
<line x1="60" y1="470.3" x2="183.3" y2="470.3" stroke="#000" stroke-width="1.4" />
<polyline points="84.9,458.5 84.9,453.4 101.5,453.4 101.5,458.5" fill="none" stroke="#000" stroke-width="1" stroke-linejoin="miter"/>
<text x="93.4" y="452.6" font-size="7.3" text-anchor="middle" font-weight="bold" font-style="normal" fill="#000"  stroke="#000" stroke-width="0.18">***</text>
<polyline points="156.5,393.4 156.5,386.9 172.6,386.9 172.6,393.4" fill="none" stroke="#000" stroke-width="1" stroke-linejoin="miter"/>
<text x="164.5" y="386.5" font-size="7.3" text-anchor="middle" font-weight="bold" font-style="normal" fill="#000"  stroke="#000" stroke-width="0.18">**</text>
<line x1="62.8" y1="477.4" x2="110.3" y2="477.4" stroke="#000" stroke-width="1.2" />
<line x1="134.3" y1="477.4" x2="182" y2="477.4" stroke="#000" stroke-width="1.2" />
<text x="87.5" y="488" font-size="7.7" text-anchor="middle" font-weight="bold" font-style="normal" fill="#000"  stroke="#000" stroke-width="0.18">Non-priming</text>
<text x="160.4" y="488" font-size="7.6" text-anchor="middle" font-weight="bold" font-style="normal" fill="#000"  stroke="#000" stroke-width="0.18">priming</text>
<line x1="219.6" y1="386.4" x2="219.6" y2="470.2" stroke="#000" stroke-width="1.4" />
<line x1="217" y1="469.6" x2="219.6" y2="469.6" stroke="#000" stroke-width="1.2" />
<text x="217" y="471.7" font-size="6.05" text-anchor="end" font-weight="bold" font-style="normal" fill="#000"  stroke="#000" stroke-width="0.22">0</text>
<line x1="217" y1="441.97" x2="219.6" y2="441.97" stroke="#000" stroke-width="1.2" />
<text x="217" y="444.07" font-size="6.05" text-anchor="end" font-weight="bold" font-style="normal" fill="#000"  stroke="#000" stroke-width="0.22">500</text>
<line x1="217" y1="414.33" x2="219.6" y2="414.33" stroke="#000" stroke-width="1.2" />
<text x="217" y="416.43" font-size="6.05" text-anchor="end" font-weight="bold" font-style="normal" fill="#000"  stroke="#000" stroke-width="0.22">1000</text>
<line x1="217" y1="386.7" x2="219.6" y2="386.7" stroke="#000" stroke-width="1.2" />
<text x="217" y="388.8" font-size="6.05" text-anchor="end" font-weight="bold" font-style="normal" fill="#000"  stroke="#000" stroke-width="0.22">1500</text>
<text x="199.1" y="428.2" font-size="6.7" text-anchor="middle" font-weight="bold" font-style="normal" fill="#111" transform="rotate(-90 199.1 428.2)" stroke="#111" stroke-width="0.15">IL-18 (pg/ml)</text>
<rect x="223.9" y="469.4" width="11.2" height="0.2" fill="#fff" stroke="none" stroke-width="0" />
<rect x="223.9" y="469.4" width="11.2" height="0.2" fill="none" stroke="#000" stroke-width="0.8" />
<line x1="246.3" y1="419.8" x2="246.3" y2="413" stroke="#000" stroke-width="0.9" />
<line x1="243.55" y1="413" x2="249.05" y2="413" stroke="#000" stroke-width="0.9" />
<rect x="240.6" y="420.3" width="11.4" height="49.3" fill="#000" stroke="none" stroke-width="0" />
<rect x="240.6" y="420.3" width="11.4" height="49.3" fill="none" stroke="#000" stroke-width="1" />
<line x1="263.8" y1="450" x2="263.8" y2="443.8" stroke="#000" stroke-width="0.9" />
<line x1="261.05" y1="443.8" x2="266.55" y2="443.8" stroke="#000" stroke-width="0.9" />
<rect x="258.2" y="450.5" width="11.3" height="19.1" fill="#fff"/>
<path d="M236 469.6L255.1 450.5M240 469.6L259.1 450.5M244 469.6L263.1 450.5M248 469.6L267.1 450.5M252 469.6L271.1 450.5M256 469.6L275.1 450.5M260 469.6L279.1 450.5M264 469.6L283.1 450.5M268 469.6L287.1 450.5M272 469.6L291.1 450.5" stroke="#000" stroke-width="1" clip-path="url(#h8)"/>
<rect x="258.2" y="450.5" width="11.3" height="19.1" fill="none" stroke="#000" stroke-width="1" />
<rect x="293.4" y="469.4" width="11.2" height="0.2" fill="#fff" stroke="none" stroke-width="0" />
<rect x="293.4" y="469.4" width="11.2" height="0.2" fill="none" stroke="#000" stroke-width="0.8" />
<line x1="316" y1="434.2" x2="316" y2="428.8" stroke="#000" stroke-width="0.9" />
<line x1="313.25" y1="428.8" x2="318.75" y2="428.8" stroke="#000" stroke-width="0.9" />
<rect x="310.5" y="434.7" width="11" height="34.9" fill="#000" stroke="none" stroke-width="0" />
<rect x="310.5" y="434.7" width="11" height="34.9" fill="none" stroke="#000" stroke-width="1" />
<rect x="327.8" y="465.6" width="10.5" height="4" fill="#fff"/>
<path d="M320 469.6L324 465.6M324 469.6L328 465.6M328 469.6L332 465.6M332 469.6L336 465.6M336 469.6L340 465.6M340 469.6L344 465.6" stroke="#000" stroke-width="1" clip-path="url(#h9)"/>
<rect x="327.8" y="465.6" width="10.5" height="4" fill="none" stroke="#000" stroke-width="1" />
<line x1="219.6" y1="469.6" x2="342.3" y2="469.6" stroke="#000" stroke-width="1.4" />
<polyline points="245.4,408.5 245.4,402.3 262.3,402.3 262.3,408.5" fill="none" stroke="#000" stroke-width="1" stroke-linejoin="miter"/>
<text x="253.8" y="402.2" font-size="7.3" text-anchor="middle" font-weight="bold" font-style="normal" fill="#000"  stroke="#000" stroke-width="0.18">*</text>
<polyline points="315.8,424.2 315.8,418 331.2,418 331.2,424.2" fill="none" stroke="#000" stroke-width="1" stroke-linejoin="miter"/>
<text x="323.5" y="417.3" font-size="7.3" text-anchor="middle" font-weight="bold" font-style="normal" fill="#000"  stroke="#000" stroke-width="0.18">**</text>
<line x1="222.3" y1="476.7" x2="271.5" y2="476.7" stroke="#000" stroke-width="1.2" />
<line x1="293.8" y1="476.7" x2="342.3" y2="476.7" stroke="#000" stroke-width="1.2" />
<text x="247.4" y="487.8" font-size="7.6" text-anchor="middle" font-weight="bold" font-style="normal" fill="#000"  stroke="#000" stroke-width="0.18">Non-priming</text>
<text x="319.5" y="487.3" font-size="7.6" text-anchor="middle" font-weight="bold" font-style="normal" fill="#000"  stroke="#000" stroke-width="0.18">priming</text>
<text x="324.8" y="369.5" font-size="16" text-anchor="start" font-weight="bold" font-style="normal" fill="#000" >E</text>
<line x1="370.2" y1="386.4" x2="370.2" y2="468.8" stroke="#000" stroke-width="1.4" />
<line x1="367.6" y1="468.2" x2="370.2" y2="468.2" stroke="#000" stroke-width="1.2" />
<text x="367.6" y="470.3" font-size="6.05" text-anchor="end" font-weight="bold" font-style="normal" fill="#000"  stroke="#000" stroke-width="0.22">0</text>
<line x1="367.6" y1="441.03" x2="370.2" y2="441.03" stroke="#000" stroke-width="1.2" />
<text x="367.6" y="443.13" font-size="6.05" text-anchor="end" font-weight="bold" font-style="normal" fill="#000"  stroke="#000" stroke-width="0.22">100</text>
<line x1="367.6" y1="413.87" x2="370.2" y2="413.87" stroke="#000" stroke-width="1.2" />
<text x="367.6" y="415.97" font-size="6.05" text-anchor="end" font-weight="bold" font-style="normal" fill="#000"  stroke="#000" stroke-width="0.22">200</text>
<line x1="367.6" y1="386.7" x2="370.2" y2="386.7" stroke="#000" stroke-width="1.2" />
<text x="367.6" y="388.8" font-size="6.05" text-anchor="end" font-weight="bold" font-style="normal" fill="#000"  stroke="#000" stroke-width="0.22">300</text>
<text x="352.3" y="427.8" font-size="6.6" text-anchor="middle" font-weight="bold" font-style="normal" fill="#111" transform="rotate(-90 352.3 427.8)" stroke="#111" stroke-width="0.15">caspase-1 p20 (pg/ml)</text>
<rect x="375.15" y="387.05" width="8.9" height="3.5" fill="#fff" stroke="none" stroke-width="0" />
<rect x="375.15" y="387.05" width="8.9" height="3.5" fill="none" stroke="#000" stroke-width="1.1" />
<text x="389.2" y="390.6" font-size="6.6" text-anchor="start" font-weight="bold" font-style="normal" fill="#000"  stroke="#000" stroke-width="0.22">Mock</text>
<rect x="375.15" y="394.75" width="8.9" height="3.1" fill="#000" stroke="none" stroke-width="0" />
<rect x="375.15" y="394.75" width="8.9" height="3.1" fill="none" stroke="#000" stroke-width="1.1" />
<text x="389.2" y="398.3" font-size="6.6" text-anchor="start" font-weight="bold" font-style="normal" fill="#000"  stroke="#000" stroke-width="0.22">DV/isotype</text>
<rect x="375.15" y="402.35" width="8.9" height="3.2" fill="#fff"/>
<path d="M368 405.55L371.2 402.35M372 405.55L375.2 402.35M376 405.55L379.2 402.35M380 405.55L383.2 402.35M384 405.55L387.2 402.35M388 405.55L391.2 402.35" stroke="#000" stroke-width="1" clip-path="url(#h10)"/>
<rect x="375.15" y="402.35" width="8.9" height="3.2" fill="none" stroke="#000" stroke-width="1.1" />
<text x="389.2" y="405.9" font-size="6.6" text-anchor="start" font-weight="bold" font-style="normal" fill="#000"  stroke="#000" stroke-width="0.22">DV/CLEC5A mAb</text>
<rect x="373.4" y="466.4" width="11.4" height="1.8" fill="#fff" stroke="none" stroke-width="0" />
<rect x="373.4" y="466.4" width="11.4" height="1.8" fill="none" stroke="#000" stroke-width="1" />
<line x1="396.4" y1="431.7" x2="396.4" y2="429.2" stroke="#000" stroke-width="0.9" />
<line x1="393.65" y1="429.2" x2="399.15" y2="429.2" stroke="#000" stroke-width="0.9" />
<rect x="391" y="432.2" width="11" height="36" fill="#000" stroke="none" stroke-width="0" />
<rect x="391" y="432.2" width="11" height="36" fill="none" stroke="#000" stroke-width="1" />
<line x1="413.8" y1="461.7" x2="413.8" y2="460" stroke="#000" stroke-width="0.9" />
<line x1="411.05" y1="460" x2="416.55" y2="460" stroke="#000" stroke-width="0.9" />
<rect x="408.2" y="462.2" width="11.3" height="6" fill="#fff"/>
<path d="M400 468.2L406 462.2M404 468.2L410 462.2M408 468.2L414 462.2M412 468.2L418 462.2M416 468.2L422 462.2M420 468.2L426 462.2" stroke="#000" stroke-width="1" clip-path="url(#h11)"/>
<rect x="408.2" y="462.2" width="11.3" height="6" fill="none" stroke="#000" stroke-width="1" />
<rect x="444.2" y="466.5" width="10.1" height="1.7" fill="#fff" stroke="none" stroke-width="0" />
<rect x="444.2" y="466.5" width="10.1" height="1.7" fill="none" stroke="#000" stroke-width="1" />
<line x1="466.4" y1="436.2" x2="466.4" y2="432.5" stroke="#000" stroke-width="0.9" />
<line x1="463.65" y1="432.5" x2="469.15" y2="432.5" stroke="#000" stroke-width="0.9" />
<rect x="461.1" y="436.7" width="10.7" height="31.5" fill="#000" stroke="none" stroke-width="0" />
<rect x="461.1" y="436.7" width="10.7" height="31.5" fill="none" stroke="#000" stroke-width="1" />
<line x1="484.3" y1="458.3" x2="484.3" y2="455.5" stroke="#000" stroke-width="0.9" />
<line x1="481.55" y1="455.5" x2="487.05" y2="455.5" stroke="#000" stroke-width="0.9" />
<rect x="479" y="458.8" width="10.7" height="9.4" fill="#fff"/>
<path d="M468 468.2L477.4 458.8M472 468.2L481.4 458.8M476 468.2L485.4 458.8M480 468.2L489.4 458.8M484 468.2L493.4 458.8M488 468.2L497.4 458.8M492 468.2L501.4 458.8" stroke="#000" stroke-width="1" clip-path="url(#h12)"/>
<rect x="479" y="458.8" width="10.7" height="9.4" fill="none" stroke="#000" stroke-width="1" />
<line x1="370.2" y1="468.2" x2="492.9" y2="468.2" stroke="#000" stroke-width="1.4" />
<polyline points="395.4,423 395.4,416.8 413.2,416.8 413.2,423" fill="none" stroke="#000" stroke-width="1" stroke-linejoin="miter"/>
<text x="404.6" y="415.3" font-size="7.3" text-anchor="middle" font-weight="bold" font-style="normal" fill="#000"  stroke="#000" stroke-width="0.18">***</text>
<polyline points="465.5,428.5 465.5,422.9 483,422.9 483,428.5" fill="none" stroke="#000" stroke-width="1" stroke-linejoin="miter"/>
<text x="474.5" y="421.6" font-size="7.3" text-anchor="middle" font-weight="bold" font-style="normal" fill="#000"  stroke="#000" stroke-width="0.18">**</text>
<line x1="370.8" y1="477.7" x2="419" y2="477.7" stroke="#000" stroke-width="1.2" />
<line x1="442.5" y1="477.7" x2="492.3" y2="477.7" stroke="#000" stroke-width="1.2" />
<text x="395.7" y="487" font-size="7.65" text-anchor="middle" font-weight="bold" font-style="normal" fill="#000"  stroke="#000" stroke-width="0.18">Non-priming</text>
<text x="468.2" y="487" font-size="7.8" text-anchor="middle" font-weight="bold" font-style="normal" fill="#000"  stroke="#000" stroke-width="0.18">priming</text>
<text x="22.2" y="507.4" font-size="16.5" text-anchor="start" font-weight="bold" font-style="normal" fill="#000" >F</text>
<text x="162.3" y="527.3" font-size="11.4" text-anchor="middle" font-weight="bold" font-style="normal" fill="#000" >Priming/DV</text>
<line x1="102.5" y1="532.8" x2="210" y2="532.8" stroke="#555" stroke-width="1.4" />
<text x="127.9" y="547" font-size="11.4" text-anchor="middle" font-weight="bold" font-style="normal" fill="#000" >Isotype</text>
<text x="191.6" y="547" font-size="11.4" text-anchor="middle" font-weight="bold" font-style="normal" fill="#000" >CLEC5A mAb</text>
<rect x="99.3" y="551.3" width="116.5" height="23.3" fill="#6e6e6e" stroke="none" stroke-width="0" />
<g clip-path="url(#c0)">
<rect x="106.5" y="556.8" width="43" height="11.7" rx="3.34" fill="#2c2c2c" opacity="0.9" filter="url(#bl2)"/>
<rect x="164" y="561.2" width="39" height="5" rx="1.43" fill="#333" opacity="0.8" filter="url(#bl1)"/>
</g>
<rect x="100.25" y="552.25" width="114.6" height="21.4" fill="none" stroke="#000" stroke-width="1.9" />
<rect x="99.3" y="577.6" width="116.5" height="23.2" fill="#6e6e6e" stroke="none" stroke-width="0" />
<g clip-path="url(#c1)">
<rect x="107.5" y="582.8" width="46.5" height="11.8" rx="3.37" fill="#383838" opacity="0.88" filter="url(#bl2)"/>
<rect x="170" y="588.5" width="31" height="5" rx="1.43" fill="#505050" opacity="0.6" filter="url(#bl1_5)"/>
</g>
<rect x="100.25" y="578.55" width="114.6" height="21.3" fill="none" stroke="#000" stroke-width="1.9" />
<rect x="99.3" y="603.9" width="116.5" height="22.9" fill="#6e6e6e" stroke="none" stroke-width="0" />
<g clip-path="url(#c2)">
<rect x="108.5" y="606.8" width="45.5" height="12.7" rx="3.63" fill="#2e2e2e" opacity="0.92" filter="url(#bl2)"/>
<rect x="162.3" y="610" width="47.2" height="8.8" rx="2.51" fill="#2a2a2a" opacity="0.92" filter="url(#bl2)"/>
</g>
<rect x="100.25" y="604.85" width="114.6" height="21" fill="none" stroke="#000" stroke-width="1.9" />
<text x="94.4" y="568.2" font-size="11.4" text-anchor="end" font-weight="bold" font-style="normal" fill="#000" >Pro-IL-1<tspan font-family="Liberation Serif" font-weight="normal">β</tspan></text>
<text x="93.6" y="597" font-size="11.4" text-anchor="end" font-weight="bold" font-style="normal" fill="#000" >Mature IL-1<tspan font-family="Liberation Serif" font-weight="normal">β</tspan></text>
<text x="92.5" y="622.7" font-size="11.4" text-anchor="end" font-weight="bold" font-style="normal" fill="#000" >Actin</text>
<text x="157.5" y="640.5" font-size="11.4" text-anchor="middle" font-weight="bold" font-style="normal" fill="#000" >IB: IL-1<tspan font-family="Liberation Serif" font-weight="normal">β</tspan> and Actin</text>
<text x="361.3" y="528.8" font-size="11.4" text-anchor="middle" font-weight="bold" font-style="normal" fill="#000" >Priming/DV</text>
<line x1="298.5" y1="533.6" x2="408" y2="533.6" stroke="#555" stroke-width="1.4" />
<text x="324.9" y="546.3" font-size="11.4" text-anchor="middle" font-weight="bold" font-style="normal" fill="#000" >Isotype</text>
<text x="394.2" y="546.3" font-size="11.4" text-anchor="middle" font-weight="bold" font-style="normal" fill="#000" >CLEC5A mAb</text>
<rect x="296.8" y="550.9" width="115.8" height="23.1" fill="#6e6e6e" stroke="none" stroke-width="0" />
<g clip-path="url(#c3)">
<rect x="297" y="550" width="52" height="25" rx="7.14" fill="#4a4a4a" opacity="0.85" filter="url(#bl2)"/>
<rect x="303" y="556.5" width="45" height="10.5" rx="3" fill="#2e2e2e" opacity="0.8" filter="url(#bl2)"/>
<rect x="361" y="561" width="43.5" height="7" rx="2" fill="#262626" opacity="0.9" filter="url(#bl1_5)"/>
</g>
<rect x="297.75" y="551.85" width="113.9" height="21.2" fill="none" stroke="#000" stroke-width="1.9" />
<rect x="296.8" y="577.6" width="115.8" height="22.8" fill="#6e6e6e" stroke="none" stroke-width="0" />
<g clip-path="url(#c4)">
<rect x="297" y="577" width="54" height="24" rx="6.86" fill="#4c4c4c" opacity="0.85" filter="url(#bl2)"/>
<rect x="301" y="585.5" width="50" height="11" rx="3.14" fill="#333" opacity="0.75" filter="url(#bl2)"/>
<rect x="355" y="579" width="57" height="21" rx="6" fill="#808080" opacity="0.3" filter="url(#bl3)"/>
</g>
<rect x="297.75" y="578.55" width="113.9" height="20.9" fill="none" stroke="#000" stroke-width="1.9" />
<text x="291.8" y="570.8" font-size="11.4" text-anchor="end" font-weight="bold" font-style="normal" fill="#000" >Pro-IL-18</text>
<text x="292.4" y="594.9" font-size="11.4" text-anchor="end" font-weight="bold" font-style="normal" fill="#000" >Mature IL-18</text>
<text x="357" y="617.9" font-size="11.4" text-anchor="middle" font-weight="bold" font-style="normal" fill="#000" >IP: IL-18;&#160; IB: IL-18</text>
<text x="21.8" y="654.4" font-size="15.5" text-anchor="start" font-weight="bold" font-style="normal" fill="#000" >G</text>
<line x1="76.4" y1="685.3" x2="76.4" y2="852.8" stroke="#000" stroke-width="2" />
<line x1="70.2" y1="851.8" x2="76.4" y2="851.8" stroke="#000" stroke-width="1.8" />
<text x="69.4" y="855.8" font-size="11" text-anchor="end" font-weight="bold" font-style="normal" fill="#000" stroke="#000" stroke-width="0.45">0</text>
<line x1="70.2" y1="824.2" x2="76.4" y2="824.2" stroke="#000" stroke-width="1.8" />
<text x="69.4" y="828.2" font-size="11" text-anchor="end" font-weight="bold" font-style="normal" fill="#000" stroke="#000" stroke-width="0.45">200</text>
<line x1="70.2" y1="796.6" x2="76.4" y2="796.6" stroke="#000" stroke-width="1.8" />
<text x="69.4" y="800.6" font-size="11" text-anchor="end" font-weight="bold" font-style="normal" fill="#000" stroke="#000" stroke-width="0.45">400</text>
<line x1="70.2" y1="769" x2="76.4" y2="769" stroke="#000" stroke-width="1.8" />
<text x="69.4" y="773" font-size="11" text-anchor="end" font-weight="bold" font-style="normal" fill="#000" stroke="#000" stroke-width="0.45">600</text>
<line x1="70.2" y1="741.4" x2="76.4" y2="741.4" stroke="#000" stroke-width="1.8" />
<text x="69.4" y="745.4" font-size="11" text-anchor="end" font-weight="bold" font-style="normal" fill="#000" stroke="#000" stroke-width="0.45">800</text>
<line x1="70.2" y1="713.8" x2="76.4" y2="713.8" stroke="#000" stroke-width="1.8" />
<text x="69.4" y="717.8" font-size="11" text-anchor="end" font-weight="bold" font-style="normal" fill="#000" stroke="#000" stroke-width="0.45">1000</text>
<line x1="70.2" y1="686.2" x2="76.4" y2="686.2" stroke="#000" stroke-width="1.8" />
<text x="69.4" y="690.2" font-size="11" text-anchor="end" font-weight="bold" font-style="normal" fill="#000" stroke="#000" stroke-width="0.45">1200</text>
<text x="35.3" y="768.9" font-size="13.8" text-anchor="middle" font-weight="bold" font-style="normal" fill="#000" transform="rotate(-90 35.3 768.9)" >IL-1<tspan font-family="Liberation Serif" font-weight="normal" font-size="1.2em">β</tspan> (pg/ml)</text>
<rect x="85.6" y="686.2" width="6.2" height="6.2" fill="#000" stroke="none" stroke-width="0" />
<polygon points="84.2,709.8 90.8,709.8 87.5,703.6" fill="#000"/>
<text x="108.2" y="695.5" font-size="13.1" text-anchor="start" font-weight="bold" font-style="italic" fill="#000" >Clec5a</text>
<text x="151.2" y="689.8" font-size="9.6" text-anchor="start" font-weight="bold" font-style="italic" fill="#000" >+/+</text>
<text x="171.8" y="695.5" font-size="12.8" text-anchor="start" font-weight="bold" font-style="italic" fill="#000" >Stat1</text>
<text x="204.2" y="689.5" font-size="9.4" text-anchor="start" font-weight="bold" font-style="italic" fill="#000" >-/-</text>
<text x="107.3" y="712.8" font-size="13.1" text-anchor="start" font-weight="bold" font-style="italic" fill="#000" >Clec5a</text>
<text x="150.8" y="707" font-size="9.4" text-anchor="start" font-weight="bold" font-style="italic" fill="#000" >-/-</text>
<text x="164.8" y="712.8" font-size="12.8" text-anchor="start" font-weight="bold" font-style="italic" fill="#000" >Stat1</text>
<text x="196.8" y="707" font-size="9.4" text-anchor="start" font-weight="bold" font-style="italic" fill="#000" >-/-</text>
<polyline points="132.5,750 132.5,737.6 217.6,737.6 217.6,750" fill="none" stroke="#000" stroke-width="2" stroke-linejoin="miter"/>
<text x="175" y="735.6" font-size="12.5" text-anchor="middle" font-weight="bold" font-style="normal" fill="#000" >***</text>
<line x1="91.3" y1="775.5" x2="153.8" y2="775.5" stroke="#000" stroke-width="1.6" />
<rect x="109.35" y="771.35" width="6.3" height="6.3" fill="#000" stroke="none" stroke-width="0" />
<rect x="119.35" y="763.1" width="6.3" height="6.3" fill="#000" stroke="none" stroke-width="0" />
<rect x="119.35" y="774.85" width="6.3" height="6.3" fill="#000" stroke="none" stroke-width="0" />
<rect x="119.35" y="786.85" width="6.3" height="6.3" fill="#000" stroke="none" stroke-width="0" />
<rect x="129.35" y="755.6" width="6.3" height="6.3" fill="#000" stroke="none" stroke-width="0" />
<rect x="129.35" y="770.6" width="6.3" height="6.3" fill="#000" stroke="none" stroke-width="0" />
<rect x="129.35" y="783.85" width="6.3" height="6.3" fill="#000" stroke="none" stroke-width="0" />
<line x1="75.6" y1="851.8" x2="260.8" y2="851.8" stroke="#000" stroke-width="2.1" />
<polygon points="190.8,853.8 197.2,853.8 194,848" fill="#000"/>
<polygon points="201.8,853.8 208.2,853.8 205,848" fill="#000"/>
<polygon points="206,853.8 212.4,853.8 209.2,848" fill="#000"/>
<polygon points="210.3,853.8 216.7,853.8 213.5,848" fill="#000"/>
<polygon points="214.5,853.8 220.9,853.8 217.7,848" fill="#000"/>
<polygon points="218.8,853.8 225.2,853.8 222,848" fill="#000"/>
<polygon points="221.8,853.8 228.2,853.8 225,848" fill="#000"/>
<polygon points="231.4,853.8 237.8,853.8 234.6,848" fill="#000"/>
<line x1="80" y1="878" x2="254.3" y2="878" stroke="#000" stroke-width="2.3" />
<text x="169.1" y="900.2" font-size="16" text-anchor="middle" font-weight="normal" font-style="normal" fill="#000" >DV</text>
<line x1="316.4" y1="687.3" x2="316.4" y2="854.7" stroke="#000" stroke-width="2" />
<line x1="310.2" y1="853.7" x2="316.4" y2="853.7" stroke="#000" stroke-width="1.8" />
<text x="309.4" y="857.7" font-size="10.9" text-anchor="end" font-weight="bold" font-style="normal" fill="#000" stroke="#000" stroke-width="0.45">0</text>
<line x1="310.2" y1="812.33" x2="316.4" y2="812.33" stroke="#000" stroke-width="1.8" />
<text x="309.4" y="816.33" font-size="10.9" text-anchor="end" font-weight="bold" font-style="normal" fill="#000" stroke="#000" stroke-width="0.45">200</text>
<line x1="310.2" y1="770.95" x2="316.4" y2="770.95" stroke="#000" stroke-width="1.8" />
<text x="309.4" y="774.95" font-size="10.9" text-anchor="end" font-weight="bold" font-style="normal" fill="#000" stroke="#000" stroke-width="0.45">400</text>
<line x1="310.2" y1="729.58" x2="316.4" y2="729.58" stroke="#000" stroke-width="1.8" />
<text x="309.4" y="733.58" font-size="10.9" text-anchor="end" font-weight="bold" font-style="normal" fill="#000" stroke="#000" stroke-width="0.45">600</text>
<line x1="310.2" y1="688.2" x2="316.4" y2="688.2" stroke="#000" stroke-width="1.8" />
<text x="309.4" y="692.2" font-size="10.9" text-anchor="end" font-weight="bold" font-style="normal" fill="#000" stroke="#000" stroke-width="0.45">800</text>
<text x="280.4" y="770.9" font-size="13.8" text-anchor="middle" font-weight="bold" font-style="normal" fill="#000" transform="rotate(-90 280.4 770.9)" >IL-18 (pg/ml)</text>
<rect x="338.3" y="850.3" width="6.3" height="6.3" fill="#000" stroke="none" stroke-width="0" />
<rect x="348" y="850.3" width="6.3" height="6.3" fill="#000" stroke="none" stroke-width="0" />
<rect x="354.2" y="850.3" width="6.3" height="6.3" fill="#000" stroke="none" stroke-width="0" />
<rect x="360.4" y="850.3" width="6.3" height="6.3" fill="#000" stroke="none" stroke-width="0" />
<rect x="368.2" y="850.3" width="6.3" height="6.3" fill="#000" stroke="none" stroke-width="0" />
<rect x="377.7" y="850.3" width="6.3" height="6.3" fill="#000" stroke="none" stroke-width="0" />
<rect x="347.9" y="850.3" width="26.5" height="6.3" fill="#000" stroke="none" stroke-width="0" />
<line x1="359.4" y1="856" x2="359.4" y2="858.5" stroke="#000" stroke-width="1" />
<line x1="316.4" y1="853.7" x2="496.9" y2="853.7" stroke="#000" stroke-width="2.1" />
<polygon points="427.8,855.7 433.8,855.7 430.8,850.3" fill="#000"/>
<polygon points="438.5,855.7 444.5,855.7 441.5,850.3" fill="#000"/>
<polygon points="442.4,855.7 448.4,855.7 445.4,850.3" fill="#000"/>
<polygon points="446.2,855.7 452.2,855.7 449.2,850.3" fill="#000"/>
<polygon points="450,855.7 456,855.7 453,850.3" fill="#000"/>
<polygon points="455.5,855.7 461.5,855.7 458.5,850.3" fill="#000"/>
<polygon points="458.5,855.7 464.5,855.7 461.5,850.3" fill="#000"/>
<polygon points="467.8,855.7 473.8,855.7 470.8,850.3" fill="#000"/>
<line x1="451.5" y1="854" x2="451.5" y2="858.8" stroke="#000" stroke-width="1" />
<line x1="320.3" y1="880.6" x2="493.7" y2="880.6" stroke="#000" stroke-width="2.3" />
<text x="409.3" y="902.5" font-size="16.3" text-anchor="middle" font-weight="normal" font-style="normal" fill="#000" >DV</text></svg>
</body></html>
